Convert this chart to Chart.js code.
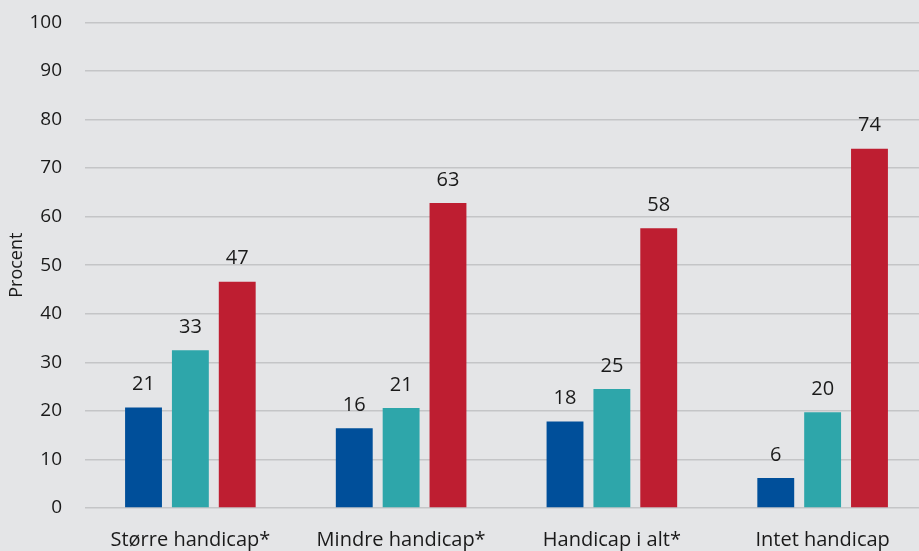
<!DOCTYPE html>
<html>
<head>
<meta charset="utf-8">
<script src="https://cdn.jsdelivr.net/npm/chart.js@4"></script>
<style>
  html, body { margin: 0; padding: 0; background: #e4e5e7; overflow: hidden; }
  .wrap { width: 928px; height: 563px; margin-top: -12px; }
</style>
</head>
<body>
<div class="wrap"><canvas id="myChart"></canvas></div>
<script>
const categories = ['Større handicap*', 'Mindre handicap*', 'Handicap i alt*', 'Intet handicap'];
const seriesA = [20.7, 16.4, 17.8, 6.2];
const seriesB = [32.5, 20.6, 24.5, 19.7];
const seriesC = [46.6, 62.8, 57.6, 74.0];
const yTicks = [0, 10, 20, 30, 40, 50, 60, 70, 80, 90, 100];

const barColors = ['#004f9a', '#2ea6aa', '#be1e31'];
const fontFamily = '"Open Sans", "Noto Sans", sans-serif';

// values above the bars, rounded like the original
const valueLabels = {
    id: 'valueLabels',
    afterDatasetsDraw(chart) {
        const ctx = chart.ctx;
        ctx.save();
        ctx.fillStyle = '#1a1a1a';
        ctx.font = '20px ' + fontFamily;
        ctx.textAlign = 'center';
        ctx.textBaseline = 'bottom';
        chart.data.datasets.forEach((ds, i) => {
            chart.getDatasetMeta(i).data.forEach((bar, j) => {
                ctx.fillText(Math.round(ds.data[j]), bar.x, bar.y - 13);
            });
        });
        ctx.restore();
    }
};

const ctx = document.getElementById('myChart').getContext('2d');
new Chart(ctx, {
    type: 'bar',
    data: {
        labels: categories,
        datasets: [seriesA, seriesB, seriesC].map((d, i) => ({
            data: d,
            backgroundColor: barColors[i],
            categoryPercentage: 0.667,
            barPercentage: 0.787,
        }))
    },
    options: {
        responsive: true,
        maintainAspectRatio: false,
        animation: false,
        layout: { padding: { top: 1, right: 0, left: 0, bottom: 0 } },
        plugins: {
            legend: { display: false },
            tooltip: { enabled: false },
        },
        scales: {
            y: {
                min: 0,
                max: 100,
                afterBuildTicks: (axis) => { axis.ticks = yTicks.map(v => ({ value: v })); },
                afterFit: (axis) => { axis.width = 85; },
                ticks: {
                    color: '#1a1a1a',
                    font: { size: 19, family: fontFamily },
                    padding: 23,
                },
                grid: {
                    color: '#c4c5c7',
                    lineWidth: 1.5,
                    drawTicks: false,
                },
                border: { display: false },
                title: {
                    display: true,
                    text: 'Procent',
                    color: '#1a1a1a',
                    font: { size: 18, family: fontFamily },
                    padding: { top: 6, bottom: 4 },
                },
            },
            x: {
                afterFit: (axis) => { axis.height = 43; },
                grid: { display: false, drawTicks: false },
                border: { display: false },
                ticks: {
                    color: '#1a1a1a',
                    font: { size: 20, family: fontFamily },
                    padding: 20,
                },
            },
        },
    },
    plugins: [valueLabels],
});
</script>
</body>
</html>
